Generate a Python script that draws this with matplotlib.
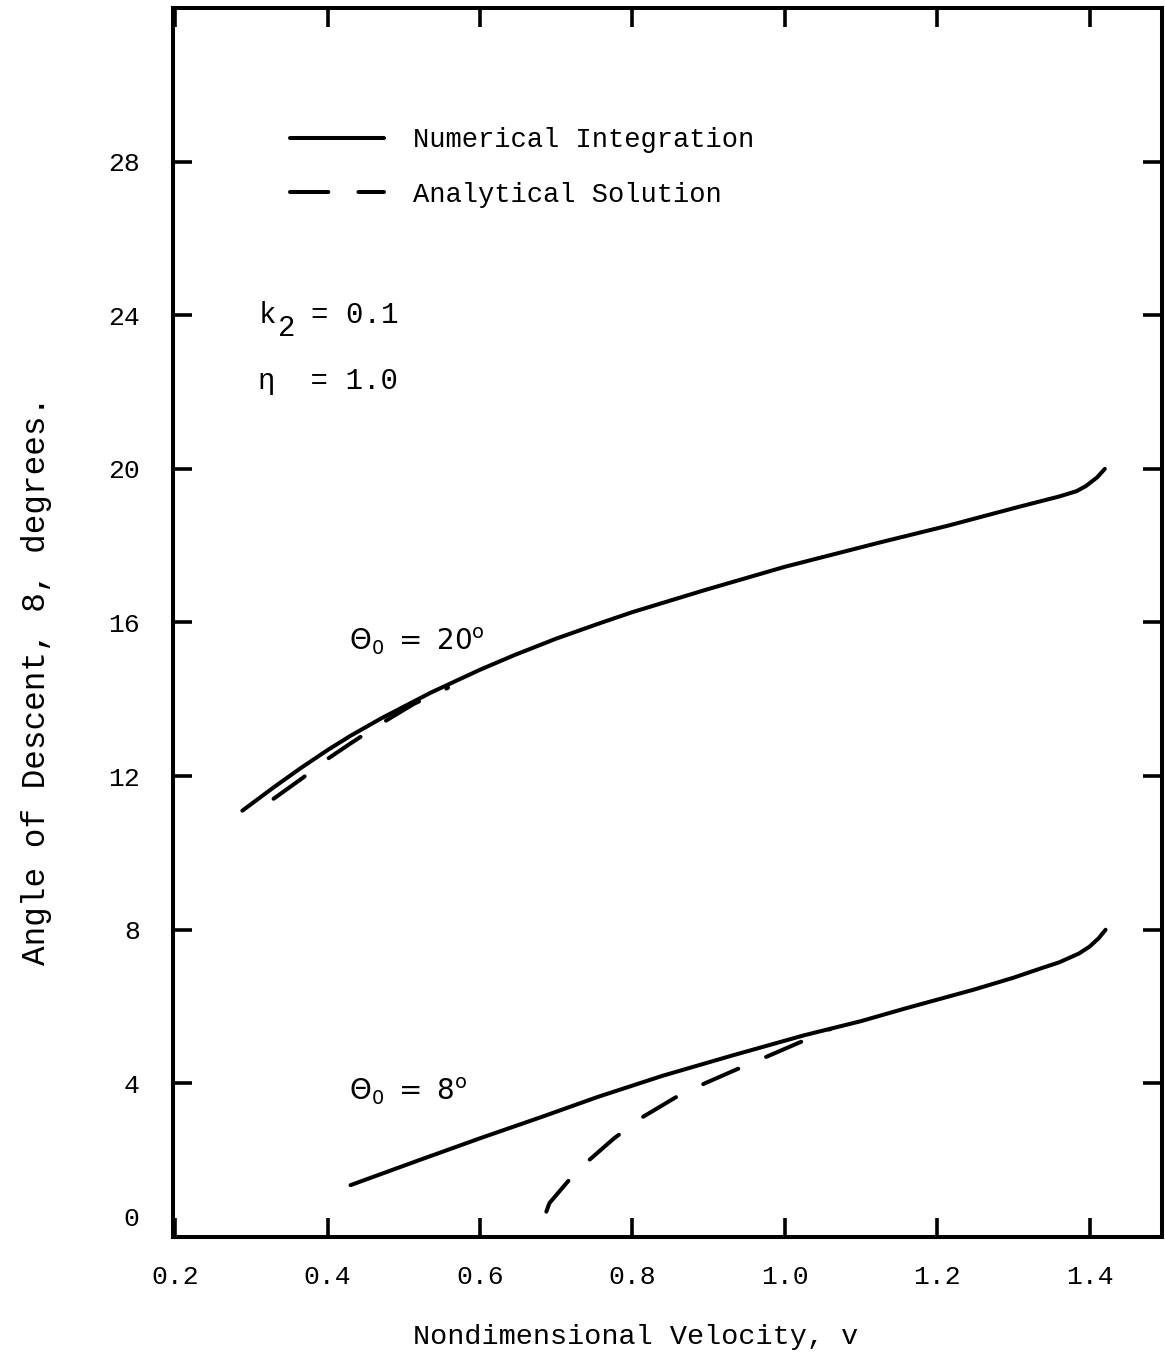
import matplotlib
matplotlib.use("Agg")
import matplotlib.pyplot as plt
import matplotlib.transforms as mtransforms

plt.rcParams['font.family'] = ['Liberation Mono', 'DejaVu Sans Mono']
plt.rcParams['mathtext.fontset'] = 'custom'
plt.rcParams['mathtext.rm'] = 'Liberation Mono'
plt.rcParams['mathtext.sf'] = 'DejaVu Sans'

# theta0 = 20 deg, numerical integration
v_num20 = [0.288, 0.33, 0.364, 0.40, 0.43, 0.47, 0.536, 0.60, 0.645, 0.70,
           0.76, 0.80, 0.896, 1.0, 1.124, 1.214, 1.305, 1.36, 1.383, 1.395,
           1.41, 1.42]
th_num20 = [11.1, 11.72, 12.2, 12.68, 13.05, 13.5, 14.18, 14.77, 15.15, 15.58,
            16.0, 16.27, 16.85, 17.45, 18.08, 18.52, 19.0, 19.28, 19.42, 19.55,
            19.78, 20.0]

# theta0 = 20 deg, analytical solution
v_ana20 = [0.329, 0.367, 0.40, 0.433, 0.467, 0.513, 0.558]
th_ana20 = [11.41, 11.95, 12.45, 12.89, 13.33, 13.88, 14.3]

# theta0 = 8 deg, numerical integration
v_num8 = [0.43, 0.52, 0.60, 0.68, 0.755, 0.84, 0.93, 1.025, 1.10, 1.158,
          1.248, 1.30, 1.337, 1.36, 1.386, 1.40, 1.412, 1.421]
th_num8 = [1.35, 2.0, 2.57, 3.12, 3.65, 4.2, 4.72, 5.25, 5.62, 5.95,
           6.44, 6.75, 7.0, 7.15, 7.38, 7.56, 7.78, 8.0]

# theta0 = 8 deg, analytical solution
v_ana8 = [0.687, 0.691, 0.70, 0.715, 0.739, 0.776, 0.814, 0.858, 0.895,
          0.941, 0.978, 1.02, 1.06]
th_ana8 = [0.66, 0.88, 1.09, 1.44, 1.93, 2.57, 3.13, 3.65, 4.0,
           4.4, 4.71, 5.07, 5.42]

xticks = [0.2, 0.4, 0.6, 0.8, 1.0, 1.2, 1.4]
yticks = [0, 4, 8, 12, 16, 20, 24, 28]

fig = plt.figure(figsize=(11.65, 13.55), dpi=100)
ax = fig.add_axes([0.1485, 0.0871, 0.8489, 0.907])

lw = 2.9
dash = (0, (9.5, 7.5))
l1, = ax.plot(v_num20, th_num20, 'k-', lw=lw, solid_capstyle='round')
l2, = ax.plot(v_ana20, th_ana20, color='k', lw=lw, linestyle=dash,
              dash_capstyle='round')
ax.plot(v_num8, th_num8, 'k-', lw=lw, solid_capstyle='round')
ax.plot(v_ana8, th_ana8, color='k', lw=lw, linestyle=dash, dash_capstyle='round')

ax.set_xlim(0.197, 1.495)
ax.set_ylim(0, 32)
ax.set_xticks(xticks)
ax.set_xticklabels(['%.1f' % x for x in xticks])
ax.set_yticks(yticks)
ax.set_yticklabels([str(y) for y in yticks])

for s in ax.spines.values():
    s.set_linewidth(2.9)
ax.tick_params(axis='x', which='major', direction='in', top=True, length=14,
               width=2.6, labelsize=19, pad=20)
ax.tick_params(axis='y', which='major', direction='in', right=True, length=14,
               width=2.6, labelsize=19, pad=24)

# the zero label sits a little above the bottom edge
zero = ax.yaxis.get_major_ticks()[0].label1
zero.set_transform(zero.get_transform() +
                   mtransforms.ScaledTranslation(0, 0.2, fig.dpi_scale_trans))

ax.set_xlabel('Nondimensional Velocity, v', fontsize=20.5)
ax.xaxis.set_label_coords(0.468, -0.071)
ax.set_ylabel('Angle of Descent, 8, degrees.', fontsize=23.5)
ax.yaxis.set_label_coords(-0.122, 0.453)

ax.legend([l1, l2], ['Numerical Integration', 'Analytical Solution'],
          loc='upper left', bbox_to_anchor=(0.118, 0.903), frameon=False,
          fontsize=19.5, handlelength=3.5, handletextpad=1.05, labelspacing=1.05,
          borderpad=0, borderaxespad=0)

# k2 typed with a lowered subscript
ax.text(0.309, 24.0, 'k', fontsize=21, va='center')
ax.annotate('2', xy=(0.309, 24.0), xytext=(14, -9), textcoords='offset points',
            fontsize=21, va='center')
ax.annotate('= 0.1', xy=(0.309, 24.0), xytext=(38, 0), textcoords='offset points',
            fontsize=21, va='center')
ax.text(0.309, 22.3, u'\u03b7  = 1.0', fontsize=21, va='center')
ax.text(0.428, 15.5, r'$\mathsf{\Theta_0\ =\ 20^o}$', fontsize=20, va='center')
ax.text(0.428, 3.78, r'$\mathsf{\Theta_0\ =\ 8^o}$', fontsize=20, va='center')

fig.savefig('out.png', dpi=100, facecolor='white')
